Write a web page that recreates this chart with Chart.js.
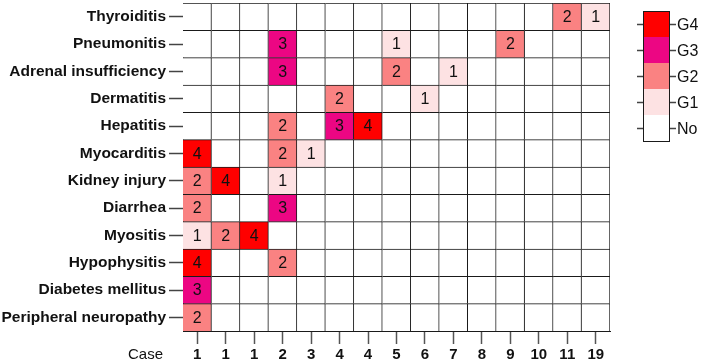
<!DOCTYPE html>
<html>
<head>
<meta charset="utf-8">
<script src="https://cdn.jsdelivr.net/npm/chart.js@4.4.1/dist/chart.umd.min.js"></script>
<style>
  html, body { margin: 0; padding: 0; background: #fff; }
  #wrap { width: 701px; height: 361px; position: relative; }
</style>
</head>
<body>
<div id="wrap"><canvas id="heat"></canvas></div>
<script>
// rows, top to bottom
const events = [
    'Thyroiditis', 'Pneumonitis', 'Adrenal insufficiency', 'Dermatitis',
    'Hepatitis', 'Myocarditis', 'Kidney injury', 'Diarrhea',
    'Myositis', 'Hypophysitis', 'Diabetes mellitus', 'Peripheral neuropathy'
];
const cases = ['1', '1', '1', '2', '3', '4', '4', '5', '6', '7', '8', '9', '10', '11', '19'];

// grade per row, one entry per case column (0 = none)
const thyroiditis  = [0, 0, 0, 0, 0, 0, 0, 0, 0, 0, 0, 0, 0, 2, 1];
const pneumonitis  = [0, 0, 0, 3, 0, 0, 0, 1, 0, 0, 0, 2, 0, 0, 0];
const adrenal      = [0, 0, 0, 3, 0, 0, 0, 2, 0, 1, 0, 0, 0, 0, 0];
const dermatitis   = [0, 0, 0, 0, 0, 2, 0, 0, 1, 0, 0, 0, 0, 0, 0];
const hepatitis    = [0, 0, 0, 2, 0, 3, 4, 0, 0, 0, 0, 0, 0, 0, 0];
const myocarditis  = [4, 0, 0, 2, 1, 0, 0, 0, 0, 0, 0, 0, 0, 0, 0];
const kidney       = [2, 4, 0, 1, 0, 0, 0, 0, 0, 0, 0, 0, 0, 0, 0];
const diarrhea     = [2, 0, 0, 3, 0, 0, 0, 0, 0, 0, 0, 0, 0, 0, 0];
const myositis     = [1, 2, 4, 0, 0, 0, 0, 0, 0, 0, 0, 0, 0, 0, 0];
const hypophysitis = [4, 0, 0, 2, 0, 0, 0, 0, 0, 0, 0, 0, 0, 0, 0];
const diabetes     = [3, 0, 0, 0, 0, 0, 0, 0, 0, 0, 0, 0, 0, 0, 0];
const neuropathy   = [2, 0, 0, 0, 0, 0, 0, 0, 0, 0, 0, 0, 0, 0, 0];

const grades = [thyroiditis, pneumonitis, adrenal, dermatitis, hepatitis, myocarditis,
    kidney, diarrhea, myositis, hypophysitis, diabetes, neuropathy];

const gradeLabels = ['No', 'G1', 'G2', 'G3', 'G4'];
const gradeColors = ['#ffffff', '#fde2e3', '#fa8282', '#ec0683', '#ff0000'];

const FONT = '"Liberation Sans", Arial, sans-serif';

// one dataset per case column, each cell a floating bar [i, i+1]
const datasets = cases.map((c, i) => ({
    label: 'Case ' + c,
    data: events.map(() => [i, i + 1]),
    backgroundColor: events.map((_, r) => gradeColors[grades[r][i]]),
    borderColor: '#1a1a1a',
    borderWidth: { top: 1, right: 1, bottom: 0, left: 0 },
    borderSkipped: false,
    grouped: false,
    barPercentage: 1,
    categoryPercentage: 1
}));

const cellText = {
    id: 'cellText',
    afterDatasetsDraw(chart) {
        const ctx = chart.ctx;
        ctx.save();
        ctx.font = '16px ' + FONT;
        ctx.fillStyle = '#111';
        ctx.textAlign = 'center';
        ctx.textBaseline = 'middle';
        chart.data.datasets.forEach((ds, i) => {
            const meta = chart.getDatasetMeta(i);
            meta.data.forEach((bar, r) => {
                const g = grades[r][i];
                if (!g) return;
                ctx.fillText(String(g), (bar.x + bar.base) / 2, bar.y + 1);
            });
        });
        ctx.restore();
    }
};

const sideBits = {
    id: 'sideBits',
    afterDraw(chart) {
        const ctx = chart.ctx;
        const area = chart.chartArea;
        ctx.save();

        // "Case" caption left of the x tick labels
        ctx.font = '15px ' + FONT;
        ctx.fillStyle = '#111';
        ctx.textAlign = 'right';
        ctx.textBaseline = 'middle';
        ctx.fillText('Case', area.left - 20, area.bottom + 24);

        // colour key
        const x0 = 643, w = 26, y0 = 11, h = 26;
        const n = gradeLabels.length;
        for (let k = 0; k < n; k++) {
            const g = n - 1 - k;
            ctx.fillStyle = gradeColors[g];
            ctx.fillRect(x0, y0 + k * h, w, h);
        }
        ctx.strokeStyle = '#1a1a1a';
        ctx.lineWidth = 1;
        ctx.strokeRect(x0 + 0.5, y0 + 0.5, w, n * h);
        ctx.strokeStyle = '#444';
        ctx.lineWidth = 1.5;
        ctx.font = '16px ' + FONT;
        ctx.fillStyle = '#111';
        ctx.textAlign = 'left';
        for (let k = 0; k < n; k++) {
            const g = n - 1 - k;
            const yc = Math.round(y0 + k * h + h / 2) + 0.5;
            ctx.beginPath();
            ctx.moveTo(x0 - 6, yc); ctx.lineTo(x0, yc);
            ctx.moveTo(x0 + w + 1, yc); ctx.lineTo(x0 + w + 7, yc);
            ctx.stroke();
            ctx.fillText(gradeLabels[g], x0 + w + 8, yc + 1);
        }
        ctx.restore();
    }
};

new Chart(document.getElementById('heat'), {
    type: 'bar',
    data: { labels: events, datasets: datasets },
    plugins: [cellText, sideBits],
    options: {
        indexAxis: 'y',
        responsive: true,
        maintainAspectRatio: false,
        animation: false,
        layout: { padding: { top: 3, right: 91, left: 0, bottom: 0 } },
        plugins: {
            legend: { display: false },
            tooltip: { enabled: false }
        },
        scales: {
            x: {
                type: 'linear',
                min: 0,
                max: cases.length,
                afterBuildTicks: (scale) => {
                    scale.ticks = cases.map((_, i) => ({ value: i + 0.5 }));
                },
                afterFit: (scale) => {
                    scale.height = 30;
                    scale.paddingLeft = 0;
                    scale.paddingRight = 0;
                },
                ticks: {
                    autoSkip: false,
                    maxRotation: 0,
                    padding: 3,
                    color: '#111',
                    font: { family: FONT, size: 15, weight: 'bold', lineHeight: 1 },
                    callback: (v, i) => cases[i]
                },
                grid: { drawOnChartArea: false, tickLength: 13, color: '#555', tickWidth: 1.5 },
                border: { display: true, color: '#1a1a1a', width: 1 }
            },
            y: {
                type: 'category',
                offset: true,
                afterFit: (scale) => {
                    scale.width = 183;
                    scale.paddingTop = 0;
                    scale.paddingBottom = 0;
                },
                ticks: {
                    padding: 3,
                    color: '#111',
                    font: { family: FONT, size: 15.5, weight: 'bold' }
                },
                grid: { offset: false, drawOnChartArea: false, tickLength: 14, color: '#444', tickWidth: 1.5 },
                border: { display: true, color: '#1a1a1a', width: 1 }
            }
        }
    }
});
</script>
</body>
</html>
